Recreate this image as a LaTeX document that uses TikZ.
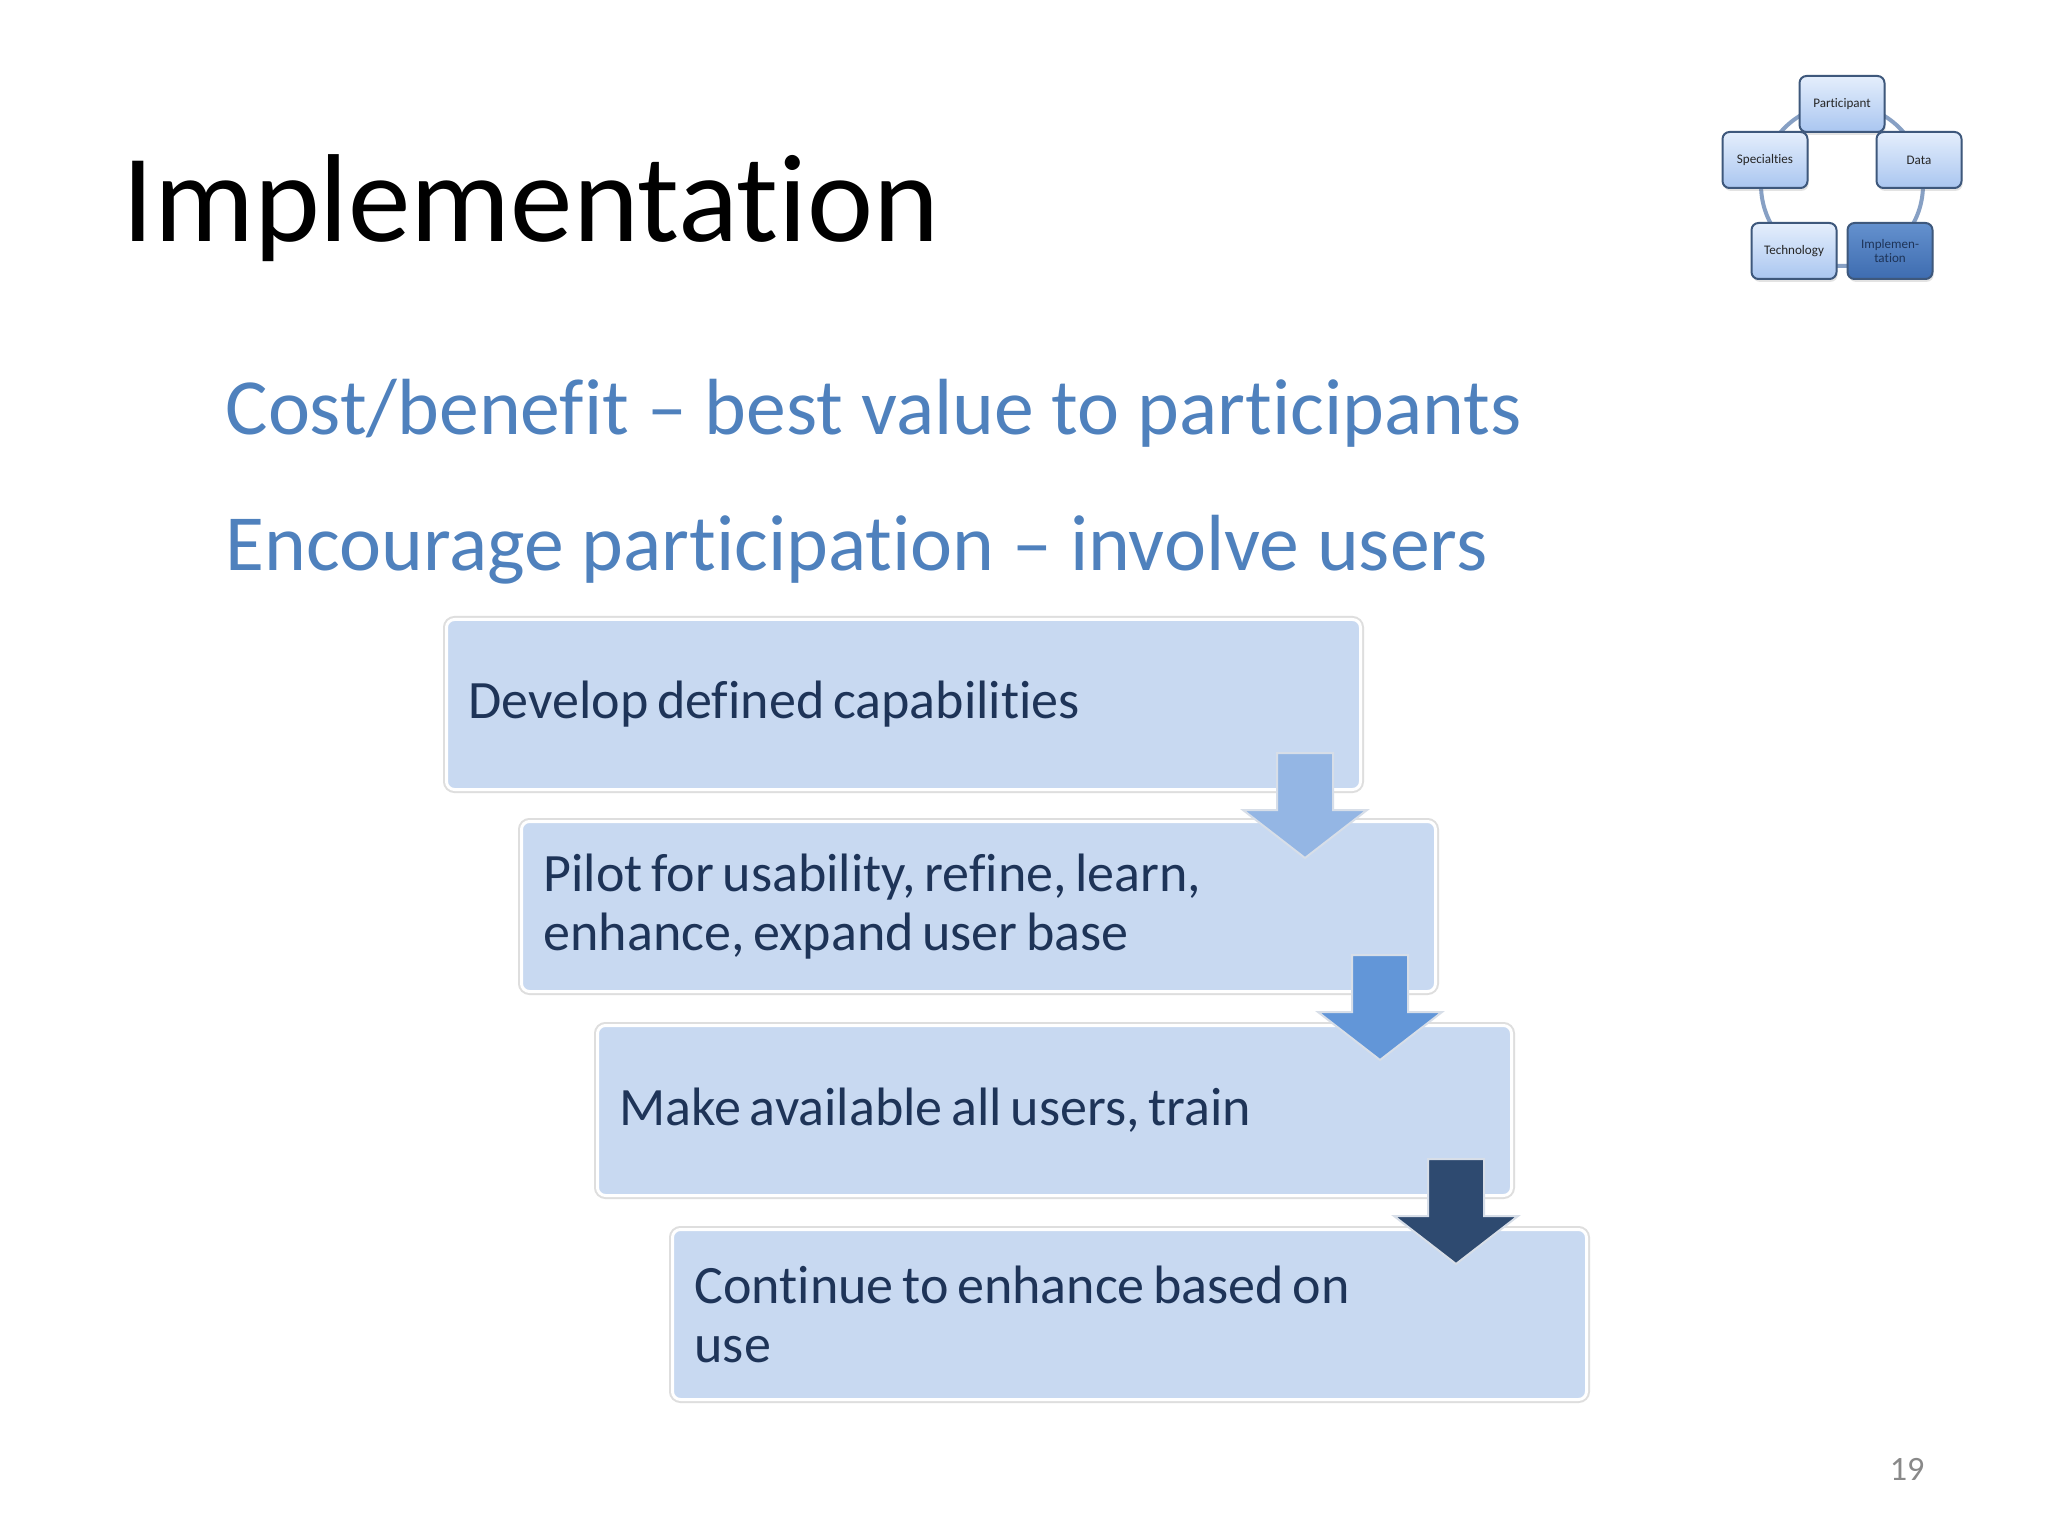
\documentclass[tikz,border=0pt]{standalone}
\usepackage{fontspec}
\setmainfont{Carlito}[Ligatures=NoCommon]
\usetikzlibrary{calc,shadows}
\newlength\pxu
\setlength\pxu{0.3515625pt}
\newcommand\tsp{\spaceskip=0.16em plus 0.03em\relax\xspaceskip=0.16em\relax}
\definecolor{accentblue}{RGB}{79,129,189}
\definecolor{boxfill}{RGB}{200,217,241}
\definecolor{boxtext}{RGB}{30,52,88}
\definecolor{arrowA}{RGB}{148,182,228}
\definecolor{arrowB}{RGB}{98,150,216}
\definecolor{arrowC}{RGB}{46,74,112}
\definecolor{arrowedge}{RGB}{215,222,232}
\definecolor{cycring}{RGB}{135,160,196}
\definecolor{cycedge}{RGB}{62,88,124}
\definecolor{cyctop}{RGB}{228,238,252}
\definecolor{cycbot}{RGB}{170,198,240}
\definecolor{impltop}{RGB}{100,145,206}
\definecolor{implbot}{RGB}{62,108,176}
\definecolor{pagegray}{RGB}{137,137,137}
\tikzset{
  bullettext/.style={anchor=base west, inner sep=0pt, text=accentblue,
    font=\fontsize{28}{34}\selectfont},
  stepbox/.style={anchor=north west, rounded corners=8\pxu, fill=boxfill,
    draw=white, line width=3\pxu,
    preaction={draw=black!13, line width=7\pxu},
    minimum width=914\pxu, minimum height=170\pxu,
    text width=870\pxu, inner xsep=22\pxu, inner ysep=0pt, align=left,
    font=\fontsize{19}{20.7}\selectfont, text=boxtext},
  arrowstyle/.style={draw=arrowedge, line width=2\pxu, line join=miter},
  downarrow/.pic={\path[pic actions] (-28,0) -- (28,0) -- (28,57) -- (62,57)
    -- (0,105) -- (-62,57) -- (-28,57) -- cycle;},
  cycbox/.style={rounded corners=7\pxu, draw=cycedge, line width=2\pxu,
    top color=cyctop, bottom color=cycbot,
    minimum width=85\pxu, minimum height=56\pxu, inner sep=1pt,
    align=center, font=\fontsize{4.6}{5}\selectfont, text=black!85,
    drop shadow={opacity=0.22, shadow xshift=0.4pt, shadow yshift=-1pt}},
  cycring/.style={draw=cycring, line width=4\pxu}
}
\begin{document}
\begin{tikzpicture}[x=0.3515625pt, y=-0.3515625pt]
\useasboundingbox[fill=white] (0,0) rectangle (2048,1536);

% title
\node[anchor=base west, inner sep=0pt, font=\fontsize{44}{53}\selectfont] (title)
  at (122,242) {Implementation};

% bullets
\node[bullettext] (bulletA) at (225,435) {Cost/benefit – best value to participants};
\node[bullettext] (bulletB) at (225,571) {Encourage participation – involve users};

% step boxes
\node[stepbox] (s1) at (445,618) {\tsp Develop defined capabilities};
\node[stepbox] (s2) at (520,820) {\tsp Pilot for usability, refine, learn,\\enhance, expand user base};
\node[stepbox] (s3) at (596,1024) {\tsp Make available all users, train};
\node[stepbox] (s4) at (671,1228) {\tsp Continue to enhance based on\\use};

% block arrows
\pic[arrowstyle, fill=arrowA] at ($(s1.south east)+(-57,-38)$) {downarrow};
\pic[arrowstyle, fill=arrowB] at ($(s2.south east)+(-57,-38)$) {downarrow};
\pic[arrowstyle, fill=arrowC] at ($(s3.south east)+(-57,-38)$) {downarrow};

% cycle diagram
\coordinate (cc) at (1842,185);
\draw[cycring] (cc) circle[radius=81];
\node[cycbox] (participant) at (1842,104) {Participant};
\node[cycbox] (specialties) at (1765,160) {Specialties};
\node[cycbox] (data) at (1919,160) {Data};
\node[cycbox] (technology) at (1794,251) {Technology};
\node[cycbox, top color=impltop, bottom color=implbot, text=boxtext] (implementation)
  at (1890,251) {Implemen-\\tation};

% page number
\node[anchor=base east, inner sep=0pt, font=\fontsize{12}{14}\selectfont, text=pagegray]
  (pagenum) at (1925,1480) {19};
\end{tikzpicture}
\end{document}
